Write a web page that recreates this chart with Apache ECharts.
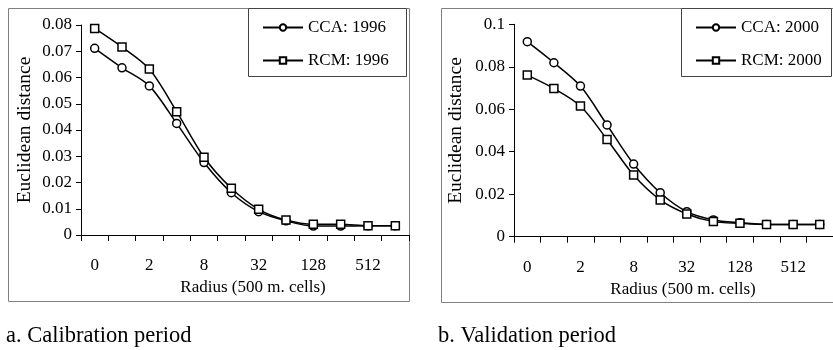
<!DOCTYPE html>
<html>
<head>
<meta charset="utf-8">
<script src="https://cdn.jsdelivr.net/npm/echarts@6/dist/echarts.min.js"></script>
<style>html,body{margin:0;padding:0;background:#fff;}#c{width:833px;height:350px;}</style>
</head>
<body>
<div id="c"></div>
<script>
var categories = ['0','1','2','4','8','16','32','64','128','256','512','1024'];
var calCCA = [0.0711, 0.0637, 0.0568, 0.0425, 0.0276, 0.0161, 0.0089, 0.0054, 0.0034, 0.0034, 0.0035, 0.0035];
var calRCM = [0.0787, 0.0716, 0.0632, 0.0470, 0.0296, 0.0178, 0.0098, 0.0057, 0.0041, 0.0041, 0.0035, 0.0035];
var valCCA = [0.0918, 0.0819, 0.0709, 0.0526, 0.0342, 0.0207, 0.0118, 0.0079, 0.0066, 0.0058, 0.0058, 0.0058];
var valRCM = [0.0761, 0.0698, 0.0615, 0.0458, 0.0290, 0.0173, 0.0107, 0.0071, 0.0063, 0.0058, 0.0058, 0.0058];
var namesCal = ['CCA: 1996', 'RCM: 1996'];
var namesVal = ['CCA: 2000', 'RCM: 2000'];
var yTitle = 'Euclidean distance';
var xTitle = 'Radius (500 m. cells)';
var captions = ['a. Calibration period', 'b. Validation period'];

var FONT = '"Liberation Serif", "Times New Roman", serif';
var chart = echarts.init(document.getElementById('c'), null, {renderer: 'canvas'});

function xAxis(gi, shift) {
  return {
    type: 'category', gridIndex: gi, data: categories, boundaryGap: true,
    axisLine: {lineStyle: {color: '#000', width: 1}},
    axisTick: {show: true, interval: 0, length: 6, lineStyle: {color: '#000'}},
    axisLabel: {interval: 1, margin: 22, color: '#000', fontFamily: FONT, fontSize: 17},
    name: xTitle, nameLocation: 'middle', nameGap: 43,
    nameTextStyle: {color: '#000', fontFamily: FONT, fontSize: 17, padding: [0, 0, 0, shift]},
    splitLine: {show: false}
  };
}
function yAxis(gi, max, interval, gap) {
  return {
    type: 'value', gridIndex: gi, min: 0, max: max, interval: interval,
    axisLine: {show: true, lineStyle: {color: '#000', width: 1}},
    axisTick: {show: true, length: 5, lineStyle: {color: '#000'}},
    axisLabel: {margin: 9, color: '#000', fontFamily: FONT, fontSize: 17},
    name: yTitle, nameLocation: 'middle', nameGap: gap,
    nameTextStyle: {color: '#000', fontFamily: FONT, fontSize: 19.5},
    splitLine: {show: false}
  };
}
function series(name, data, gi, sym) {
  return {
    name: name, type: 'line', xAxisIndex: gi, yAxisIndex: gi, data: data,
    smooth: 0.3, symbol: sym, symbolSize: 8, showAllSymbol: true,
    lineStyle: {color: '#000', width: 1.5},
    itemStyle: {color: '#fff', borderColor: '#000', borderWidth: 1.5},
    emphasis: {disabled: true}, animation: false, z: 3
  };
}
function legend(names, left) {
  return {
    data: names, left: left, top: 19, orient: 'vertical', itemGap: 16,
    itemWidth: 40, itemHeight: 8, selectedMode: false, padding: 0,
    textStyle: {color: '#000', fontFamily: FONT, fontSize: 17, padding: [0, 0, 0, 0]}
  };
}

chart.setOption({
  backgroundColor: '#fff',
  animation: false,
  grid: [
    {left: 81, top: 25, width: 328, height: 210},
    {left: 514, top: 24.3, width: 329, height: 212.4}
  ],
  xAxis: [xAxis(0, 16), xAxis(1, 19)],
  yAxis: [yAxis(0, 0.08, 0.01, 46), yAxis(1, 0.1, 0.02, 48)],
  legend: [legend(namesCal, 262), legend(namesVal, 695)],
  series: [
    series(namesCal[0], calCCA, 0, 'circle'),
    series(namesCal[1], calRCM, 0, 'rect'),
    series(namesVal[0], valCCA, 1, 'circle'),
    series(namesVal[1], valRCM, 1, 'rect')
  ],
  graphic: [
    {type: 'rect', shape: {x: 8.5, y: 8.5, width: 401, height: 293}, style: {fill: 'none', stroke: '#808080', lineWidth: 1}, z: 0},
    {type: 'rect', shape: {x: 441.5, y: 8.5, width: 420, height: 294}, style: {fill: 'none', stroke: '#808080', lineWidth: 1}, z: 0},
    {type: 'rect', shape: {x: 248.5, y: 8.5, width: 158, height: 68}, style: {fill: '#fff', stroke: '#444', lineWidth: 1}, z: 1},
    {type: 'rect', shape: {x: 681.5, y: 8.5, width: 150, height: 68}, style: {fill: '#fff', stroke: '#444', lineWidth: 1}, z: 1},
    {type: 'text', left: 6, top: 325, style: {text: captions[0], fill: '#000', font: '22.5px ' + FONT}},
    {type: 'text', left: 438, top: 325, style: {text: captions[1], fill: '#000', font: '22.5px ' + FONT}}
  ]
});
</script>
</body>
</html>
